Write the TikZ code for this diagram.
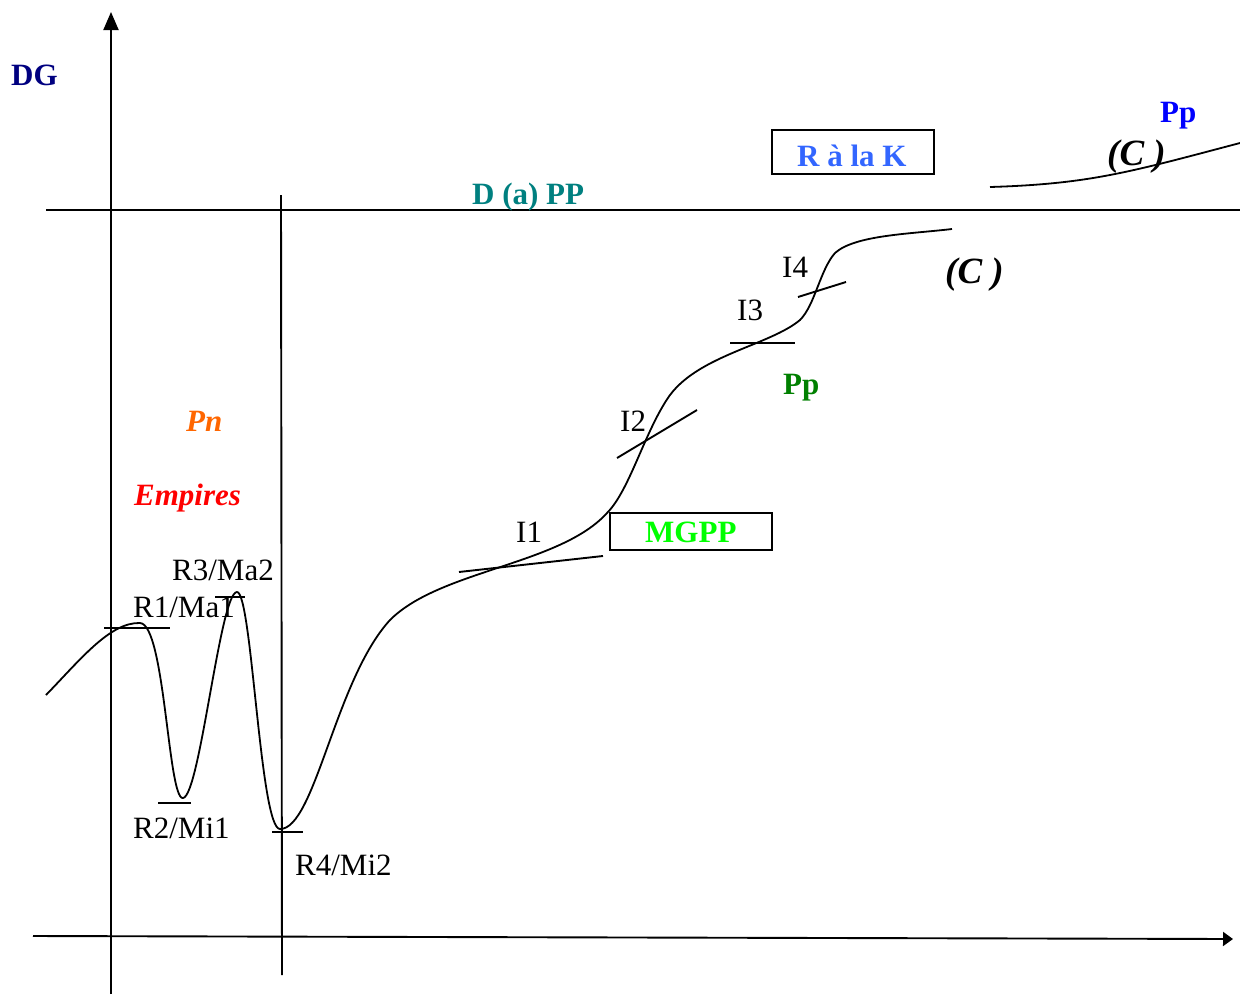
\documentclass[tikz,border=0pt]{standalone}
\usepackage{fontspec}
\setmainfont{Liberation Serif}
\usetikzlibrary{arrows.meta}
\definecolor{dgnavy}{RGB}{0,0,128}
\definecolor{dteal}{RGB}{0,128,128}
\definecolor{rblue}{RGB}{51,102,255}
\definecolor{ppblue}{RGB}{0,0,255}
\definecolor{ppgreen}{RGB}{0,128,0}
\definecolor{mgreen}{RGB}{0,255,0}
\definecolor{pnorange}{RGB}{255,102,0}
\definecolor{empred}{RGB}{255,0,0}
\tikzset{
  lbl/.style={anchor=base west, inner sep=0pt, font=\fontsize{31}{36}\selectfont},
  blbl/.style={lbl, font=\fontsize{31}{36}\selectfont\bfseries},
  bilbl/.style={lbl, font=\fontsize{31}{36}\selectfont\bfseries\itshape},
  clbl/.style={lbl, font=\fontsize{37}{42}\selectfont\bfseries\itshape},
  boxed/.style={draw=black, line width=1.9pt, minimum width=162pt, inner sep=0pt},
  ln/.style={line width=1.9pt, black},
  crv/.style={line width=1.8pt, black}
}
\begin{document}
\begin{tikzpicture}[x=1pt,y=-1pt]
\useasboundingbox (0,0) rectangle (1240,994);
% axes
\coordinate (yb) at (111,994);
\coordinate (yt) at (111,12);
\coordinate (xl) at (33,936);
\coordinate (xr) at (1233,939);
\draw[ln, -{Triangle[length=18pt,width=15pt]}] (yb) -- (yt);
\draw[ln, -{Triangle[length=10pt,width=14pt]}] (xl) -- (xr);
% horizontal D(a)PP line
\coordinate (hl) at (46,210);
\coordinate (hr) at (1240,210);
\draw[ln] (hl) -- (hr);
% vertical line
\coordinate (vt) at (281,195);
\coordinate (vb) at (282,975);
\draw[ln] (vt) -- (vb);
% main curve
\coordinate (c0) at (46,695);
\coordinate (c1) at (140,623);
\coordinate (c2) at (183,798);
\coordinate (c3) at (237,592);
\coordinate (c4) at (280,829);
\coordinate (c5) at (390,620);
\coordinate (c6) at (607,513);
\coordinate (c7) at (670,395);
\coordinate (c8) at (800,320);
\coordinate (c9) at (835,253);
\coordinate (c10) at (952,229);
\draw[crv] (c0) .. controls (80,660) and (110,622) .. (c1)
  .. controls (165,624) and (168,800) .. (c2)
  .. controls (200,796) and (220,592) .. (c3)
  .. controls (252,592) and (260,829) .. (c4)
  .. controls (315,829) and (335,680) .. (c5)
  .. controls (440,570) and (560,565) .. (c6)
  .. controls (630,490) and (645,430) .. (c7)
  .. controls (700,355) and (770,345) .. (c8)
  .. controls (815,305) and (820,270) .. (c9)
  .. controls (855,235) and (910,234) .. (c10);
% upper curve
\coordinate (u0) at (990,187);
\coordinate (u1) at (1240,143);
\draw[crv] (u0) .. controls (1090,184) and (1130,172) .. (u1);
% ticks at extrema
\coordinate (t1a) at (104,628); \coordinate (t1b) at (170,628);
\coordinate (t2a) at (158,803); \coordinate (t2b) at (191,803);
\coordinate (t3a) at (215,597); \coordinate (t3b) at (245,597);
\coordinate (t4a) at (272,832); \coordinate (t4b) at (303,832);
\draw[ln] (t1a) -- (t1b);
\draw[ln] (t2a) -- (t2b);
\draw[ln] (t3a) -- (t3b);
\draw[ln] (t4a) -- (t4b);
% tangent lines at inflections
\coordinate (i1a) at (459,572); \coordinate (i1b) at (603,556);
\coordinate (i2a) at (617,458); \coordinate (i2b) at (697,410);
\coordinate (i3a) at (730,343); \coordinate (i3b) at (795,343);
\coordinate (i4a) at (798,297); \coordinate (i4b) at (846,282);
\draw[ln] (i1a) -- (i1b);
\draw[ln] (i2a) -- (i2b);
\draw[ln] (i3a) -- (i3b);
\draw[ln] (i4a) -- (i4b);
% labels
\node[blbl, text=dgnavy] (dg) at (11,85) {DG};
\node[blbl, text=dteal] (dapp) at (472,204) {D (a) PP};
\node[boxed, minimum height=44pt] (rk) at (853,152) {};
\node[blbl, text=rblue] (rktxt) at (797,166) {R à la K};
\node[blbl, text=ppblue] (pptop) at (1160,122) {Pp};
\node[clbl] (ctop) at (1107,165) {(C )};
\node[clbl] (cmid) at (945,283) {(C )};
\node[lbl] (l4) at (782,277) {I4};
\node[lbl] (l3) at (737,320) {I3};
\node[lbl] (l2) at (620,431) {I2};
\node[lbl] (l1) at (516,542) {I1};
\node[blbl, text=ppgreen] (ppg) at (783,394) {Pp};
\node[boxed, minimum height=37pt] (mg) at (691,531.5) {};
\node[blbl, text=mgreen] (mgtxt) at (645,542) {MGPP};
\node[bilbl, text=pnorange] (pn) at (186,431) {Pn};
\node[bilbl, text=empred] (emp) at (134,505) {Empires};
\node[lbl] (r3) at (172,580) {R3/Ma2};
\node[lbl] (r1) at (133,617) {R1/Ma1};
\node[lbl] (r2) at (133,838) {R2/Mi1};
\node[lbl] (r4) at (295,875) {R4/Mi2};
\end{tikzpicture}
\end{document}
